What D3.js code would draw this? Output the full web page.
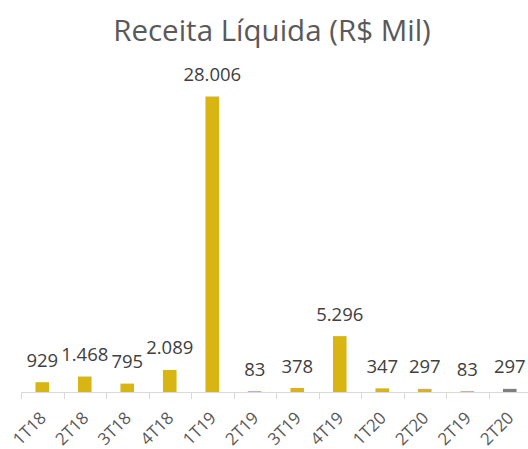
<!DOCTYPE html>
<html><head><meta charset="utf-8">
<script src="https://cdn.jsdelivr.net/npm/d3@7"></script>
<style>body{margin:0;background:#fff}</style>
</head><body>
<script>
const categories = ["1T18","2T18","3T18","4T18","1T19","2T19","3T19","4T19","1T20","2T20","2T19","2T20"];
const values = [929,1468,795,2089,28006,83,378,5296,347,297,83,297];
const barColors = ["#D9B514","#D9B514","#D9B514","#D9B514","#D9B514","#D9B514","#D9B514","#D9B514","#D9B514","#D9B514","#D9B514","#7F7F7F"];
const title = "Receita Líquida (R$ Mil)";

const W = 528, H = 449;
const font = "'Open Sans', sans-serif";
const svg = d3.select("body").append("svg").attr("width", W).attr("height", H);

const idx = categories.map((c,i)=>i);
const x = d3.scaleBand().domain(idx).range([21, 531]).paddingInner(0.68).paddingOuter(0.34);
const y = d3.scaleLinear().domain([0, 28006]).range([392, 96.5]);

svg.append("text").attr("x", 272).attr("y", 29).attr("text-anchor","middle")
  .attr("dominant-baseline","central").attr("font-family", font).attr("font-size", 29.5)
  .attr("fill","#595959").text(title);

svg.selectAll("rect.bar").data(values).join("rect").attr("class","bar")
  .attr("x",(d,i)=>x(i)).attr("width",x.bandwidth())
  .attr("y",d=>y(d)).attr("height",d=>y(0)-y(d))
  .attr("fill",(d,i)=>barColors[i]);

const fmt = d3.formatLocale({decimal:",",thousands:".",grouping:[3],currency:["R$",""]}).format(",d");
svg.selectAll("text.val").data(values).join("text").attr("class","val")
  .attr("x",(d,i)=>x(i)+x.bandwidth()/2).attr("y",d=>y(d)-23)
  .attr("text-anchor","middle").attr("dominant-baseline","central")
  .attr("font-family",font).attr("font-size",18.5).attr("fill","#404040")
  .text(d=>fmt(d));

// axis
const edges = d3.range(categories.length+1).map(i=>21+i*(510/categories.length));
svg.append("line").attr("x1",21).attr("x2",531).attr("y1",392.5).attr("y2",392.5)
  .attr("stroke","#D9D9D9").attr("stroke-width",1);
svg.selectAll("line.tick").data(edges).join("line").attr("class","tick")
  .attr("x1",d=>Math.round(d)+0.5).attr("x2",d=>Math.round(d)+0.5).attr("y1",392).attr("y2",399)
  .attr("stroke","#D9D9D9");
svg.selectAll("text.cat").data(categories).join("text").attr("class","cat")
  .attr("transform",(d,i)=>`translate(${x(i)+x.bandwidth()/2+5},${419}) rotate(-45)`)
  .attr("text-anchor","end")
  .attr("font-family",font).attr("font-size",17).attr("fill","#595959")
  .text(d=>d);
</script>
</body></html>
